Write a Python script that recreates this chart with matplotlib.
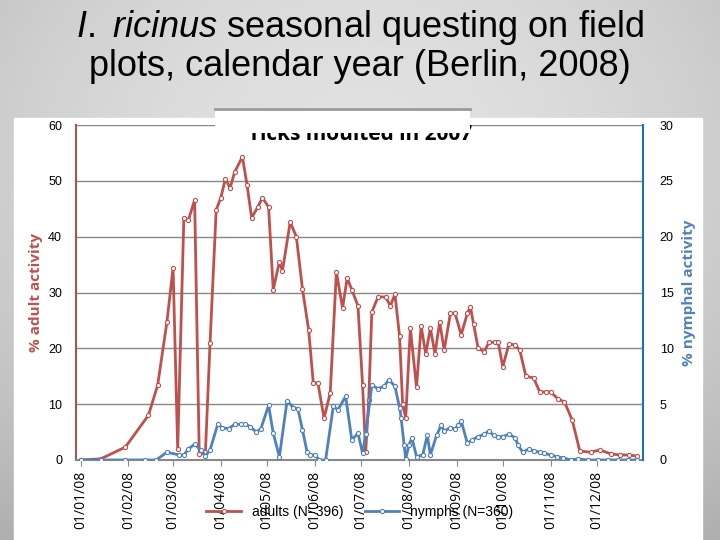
import numpy as np
import matplotlib
matplotlib.use("Agg")
import matplotlib.pyplot as plt
from matplotlib.patches import Rectangle

plt.rcParams['font.family'] = ['Liberation Sans', 'DejaVu Sans']
plt.rcParams['mathtext.fontset'] = 'custom'
plt.rcParams['mathtext.it'] = 'Liberation Sans:italic'
plt.rcParams['mathtext.rm'] = 'Liberation Sans'

tick_days = [1, 32, 61, 92, 122, 153, 183, 214, 245, 275, 306, 336]
tick_labels = ["01/01/08", "01/02/08", "01/03/08", "01/04/08", "01/05/08", "01/06/08",
               "01/07/08", "01/08/08", "01/09/08", "01/10/08", "01/11/08", "01/12/08"]

adult_days = [1, 14, 30, 45, 51, 57, 61, 64, 68, 71,
              75, 78, 82, 85, 89, 92, 95, 98, 101, 106,
              109, 112, 116, 119, 123, 126, 130, 132, 137, 141,
              145, 149, 152, 155, 159, 163, 167, 171, 174, 177,
              181, 184, 186, 188, 190, 194, 199, 202, 205, 208,
              210, 212, 215, 219, 222, 225, 228, 231, 234, 237,
              241, 244, 248, 252, 254, 256, 259, 263, 266, 270,
              272, 275, 279, 283, 286, 290, 295, 299, 303, 306,
              311, 315, 320, 325, 332, 338, 345, 351, 357, 362]
adult_vals = [0, 0.2, 2.3, 8, 13.4, 24.7, 34.4, 2, 43.4, 43,
              46.6, 1, 1.4, 21, 44.8, 47, 50.4, 48.7, 51.6, 54.3,
              49.3, 43.4, 45.3, 47, 45.3, 30.5, 35.5, 33.9, 42.6, 40,
              30.6, 23.3, 13.8, 13.8, 7.5, 12, 33.7, 27.2, 32.6, 30.5,
              27.6, 13.4, 1.4, 10.8, 26.5, 29.2, 29.2, 27.6, 29.7, 22.2,
              10, 7.5, 23.6, 13, 24, 19, 23.6, 19, 24.7, 19.7,
              26.3, 26.3, 22.4, 26.3, 27.4, 24.4, 20, 19.4, 21.1, 21.1,
              21.1, 16.7, 20.8, 20.6, 19.7, 15, 14.7, 12.2, 12.2, 12.2,
              10.9, 10.4, 7.2, 1.6, 1.4, 1.8, 1.1, 0.9, 0.9, 0.7]

nymph_days = [1, 14, 30, 43, 50, 57, 65, 68, 71, 75,
              79, 82, 85, 90, 93, 97, 101, 105, 108, 111,
              115, 118, 123, 126, 130, 135, 139, 142, 145, 148,
              150, 153, 156, 160, 165, 168, 173, 177, 181, 184,
              186, 190, 194, 198, 201, 205, 208, 209, 211, 212,
              214, 216, 219, 223, 226, 228, 232, 235, 237, 241,
              244, 246, 248, 252, 255, 259, 263, 266, 269, 272,
              275, 279, 283, 285, 288, 292, 295, 299, 302, 306,
              310, 314, 319, 324, 330, 337, 343, 350, 356, 362]
nymph_vals = [0, 0, 0, 0, 0, 0.7, 0.45, 0.45, 1.0, 1.4,
              0.9, 0.35, 0.9, 3.2, 2.9, 2.8, 3.2, 3.2, 3.2, 3.0,
              2.5, 2.8, 4.9, 2.4, 0.3, 5.3, 4.7, 4.6, 2.7, 0.7,
              0.45, 0.45, 0, 0, 4.8, 4.5, 5.7, 1.8, 2.4, 0.6,
              2.3, 6.7, 6.4, 6.6, 7.2, 6.6, 4.7, 3.8, 1.3, 0.1,
              1.3, 2.0, 0.3, 0.45, 2.2, 0.45, 2.2, 3.1, 2.6, 2.9,
              2.8, 3.1, 3.5, 1.5, 1.8, 2.1, 2.3, 2.6, 2.2, 2.1,
              2.1, 2.3, 2.0, 1.3, 0.7, 1.0, 0.8, 0.7, 0.6, 0.45,
              0.3, 0.2, 0, 0.1, 0, 0, 0, 0, 0, 0]

red = '#c0504d'
blue = '#4f81bd'

fig = plt.figure(figsize=(7.2, 5.4), dpi=100)
bg = fig.add_axes([0, 0, 1, 1], zorder=-10)
yy, xx = np.mgrid[0:1:200j, 0:1:200j]
grad = 0.88 - 0.25 * ((xx - 0.5) ** 2 * 1.2 + (yy - 0.3) ** 2)
bg.imshow(grad, cmap='gray', vmin=0, vmax=1, aspect='auto', extent=[0, 1, 0, 1])
bg.add_patch(Rectangle((0.02, 0.0), 0.955, 0.782, color='white', transform=bg.transAxes))
bg.set_xlim(0, 1); bg.set_ylim(0, 1)
bg.axis('off')

fig.text(0.5, 0.915, r"$\it{I.}$ $\it{ricinus}$ seasonal questing on field" "\nplots, calendar year (Berlin, 2008)",
         ha='center', va='center', fontsize=26, linespacing=1.05)

ax = fig.add_axes([76 / 720, 80 / 540, 567 / 720, 335 / 540])
ax.set_facecolor('none')
ax.plot(adult_days, adult_vals, color=red, lw=2, marker='o', ms=3, mfc='white', mec=red, mew=0.8,
        label='adults (N=396)')
ax.set_xlim(-2, 366)
ax.set_ylim(0, 60)
ax.set_yticks(range(0, 61, 10))
ax.yaxis.grid(True, color='#888888', lw=1)
ax.set_axisbelow(True)
ax.set_xticks(tick_days)
ax.set_xticklabels(tick_labels, rotation=90, fontsize=10, family='Open Sans')
ax.tick_params(axis='y', labelsize=9, length=0, pad=10)
ax.tick_params(axis='x', length=4, color='#888888')
for s in ['top', 'right']:
    ax.spines[s].set_visible(False)
ax.spines['left'].set_color('#9c5a50'); ax.spines['left'].set_linewidth(1.5)
ax.spines['bottom'].set_color('#888888'); ax.spines['bottom'].set_linewidth(1.5)
ax.set_ylabel('% adult activity', color=red, fontsize=11, fontweight='bold', family='Open Sans', labelpad=4)

ax2 = ax.twinx()
ax2.plot(nymph_days, nymph_vals, color=blue, lw=2, marker='o', ms=3, mfc='white', mec=blue, mew=0.8,
         label='nymphs (N=360)')
ax2.set_ylim(0, 30)
ax2.set_yticks(range(0, 31, 5))
ax2.tick_params(axis='y', labelsize=9, length=0, pad=12)
for s in ['top', 'left', 'bottom']:
    ax2.spines[s].set_visible(False)
ax2.spines['right'].set_color('#1f6fc0'); ax2.spines['right'].set_linewidth(1.5)
ax2.set_ylabel('% nymphal activity', color=blue, fontsize=11, fontweight='bold', family='Open Sans', labelpad=6)

fig.text(360 / 720, 1 - 135 / 540, 'Ticks moulted in 2007', ha='center', va='center',
         fontsize=15, fontweight='bold', family='Open Sans', zorder=5)
# white box half-covering the subtitle
fig.patches.append(Rectangle((215 / 720, 1 - 133 / 540), 255 / 720, 25 / 540, facecolor='white',
                             edgecolor='none', transform=fig.transFigure, zorder=6))
fig.lines.append(plt.Line2D([215 / 720, 470 / 720], [1 - 109 / 540, 1 - 109 / 540], color='#999999',
                            lw=2, transform=fig.transFigure, zorder=7))

h1, l1 = ax.get_legend_handles_labels()
h2, l2 = ax2.get_legend_handles_labels()
fig.legend(h1 + h2, l1 + l2, loc='center', bbox_to_anchor=(360 / 720, 1 - 512 / 540), ncol=2,
           frameon=False, fontsize=10, handlelength=2.5, columnspacing=1.5)

fig.savefig('out.png', dpi=100)
